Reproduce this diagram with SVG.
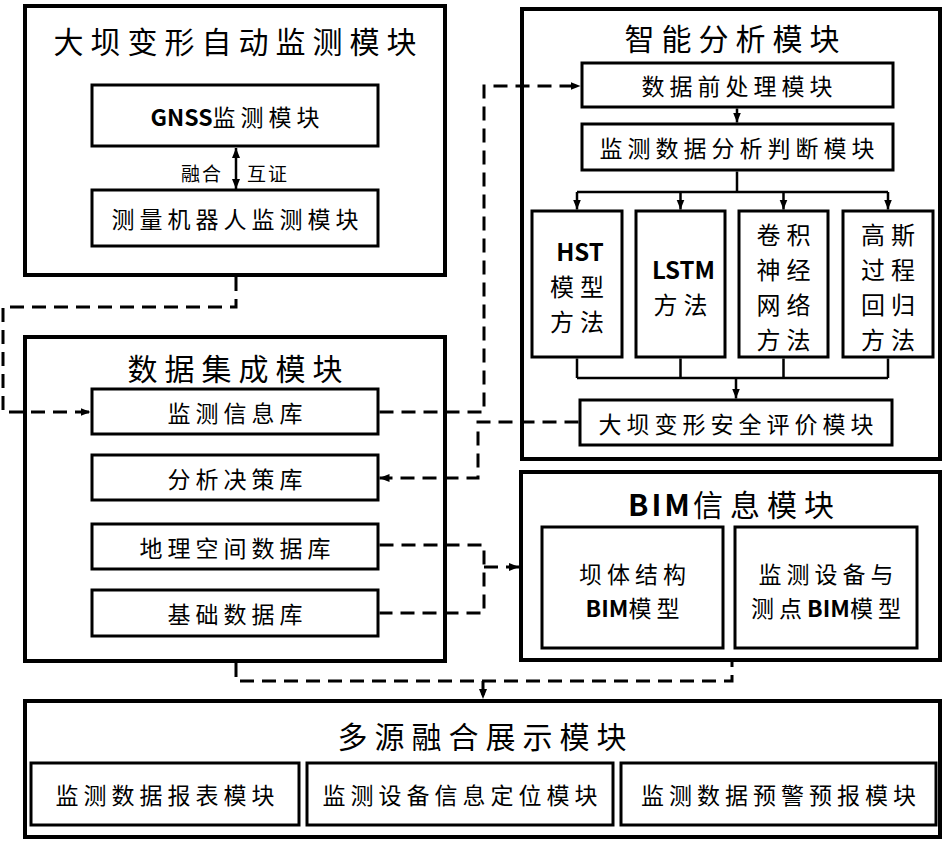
<svg xmlns="http://www.w3.org/2000/svg" width="945" height="841" viewBox="0 0 945 841">
<defs>
<style>
.outer{fill:#fff;stroke:#000;stroke-width:4}
.inner{fill:#fff;stroke:#000;stroke-width:3}
text{font-family:"Noto Sans CJK SC","Noto Sans",sans-serif;fill:#000;text-anchor:middle;dominant-baseline:central}
.title{font-size:30px;letter-spacing:7px}
.sub{font-size:23px;letter-spacing:5px}
.meth{font-size:24px;letter-spacing:6px}
.small{font-size:19px;letter-spacing:2px}
.lat{font-weight:bold;letter-spacing:0}
.solid{fill:none;stroke:#000;stroke-width:2.5}
.dash{fill:none;stroke:#000;stroke-width:3;stroke-dasharray:14 8}
</style>
<marker id="ah" markerUnits="userSpaceOnUse" markerWidth="10" markerHeight="10" refX="10" refY="5" orient="auto-start-reverse" viewBox="0 0 10 10"><path d="M0,1 L10,5 L0,9 z" fill="#000"/></marker>
</defs>
<rect width="945" height="841" fill="#fff"/>

<g id="monitor">
<rect class="outer" x="25" y="6" width="420" height="269"/>
<text class="title" x="238.5" y="40">大坝变形自动监测模块</text>
<g id="gnss"><rect class="inner" x="92" y="85" width="286" height="61"/>
<text class="sub" x="237.5" y="116"><tspan class="lat">GNSS</tspan>监测模块</text></g>
<g id="robot"><rect class="inner" x="92" y="190" width="286" height="56"/>
<text class="sub" x="237.5" y="218">测量机器人监测模块</text></g>
<text class="small" x="202" y="172">融合</text>
<text class="small" x="268" y="172">互证</text>
</g>

<g id="analysis">
<rect class="outer" x="522" y="9" width="418" height="450"/>
<text class="title" x="735.5" y="37">智能分析模块</text>
<g id="preproc"><rect class="inner" x="582" y="63" width="311" height="44"/>
<text class="sub" x="739.5" y="85">数据前处理模块</text></g>
<g id="judge"><rect class="inner" x="582" y="124" width="311" height="46"/>
<text class="sub" x="739.5" y="147">监测数据分析判断模块</text></g>
<g id="hst"><rect class="inner" x="532" y="211" width="90" height="146"/>
<text class="meth" x="580" y="250"><tspan class="lat">HST</tspan><tspan x="580" y="285">模型</tspan><tspan x="580" y="320">方法</tspan></text></g>
<g id="lstm"><rect class="inner" x="636" y="211" width="89" height="146"/>
<text class="meth" x="683.5" y="268"><tspan class="lat">LSTM</tspan><tspan x="683.5" y="303">方法</tspan></text></g>
<g id="cnn"><rect class="inner" x="739" y="211" width="89" height="146"/>
<text class="meth" x="786.5" y="233">卷积<tspan x="786.5" y="268">神经</tspan><tspan x="786.5" y="303">网络</tspan><tspan x="786.5" y="338">方法</tspan></text></g>
<g id="gpr"><rect class="inner" x="843" y="211" width="90" height="146"/>
<text class="meth" x="891" y="233">高斯<tspan x="891" y="268">过程</tspan><tspan x="891" y="303">回归</tspan><tspan x="891" y="338">方法</tspan></text></g>
<g id="safety"><rect class="inner" x="580" y="400" width="312" height="45"/>
<text class="sub" x="738.5" y="422.5">大坝变形安全评价模块</text></g>
</g>

<g id="integration">
<rect class="outer" x="25" y="337" width="420" height="324"/>
<text class="title" x="238.5" y="367">数据集成模块</text>
<g id="db-monitor"><rect class="inner" x="92" y="389" width="286" height="45"/>
<text class="sub" x="237.5" y="411.5">监测信息库</text></g>
<g id="db-decision"><rect class="inner" x="92" y="455" width="286" height="45"/>
<text class="sub" x="237.5" y="477.5">分析决策库</text></g>
<g id="db-geo"><rect class="inner" x="92" y="524" width="286" height="45"/>
<text class="sub" x="237.5" y="546.5">地理空间数据库</text></g>
<g id="db-base"><rect class="inner" x="92" y="590" width="286" height="46"/>
<text class="sub" x="237.5" y="613">基础数据库</text></g>
</g>

<g id="bim">
<rect class="outer" x="521" y="472" width="419" height="188"/>
<text class="title" x="734.5" y="503"><tspan class="lat" style="letter-spacing:3px">BIM</tspan>信息模块</text>
<g id="bim-dam"><rect class="inner" x="542" y="527" width="181" height="121"/>
<text class="sub" x="635" y="573">坝体结构</text>
<text class="sub" x="635" y="607"><tspan class="lat">BIM</tspan>模型</text></g>
<g id="bim-device"><rect class="inner" x="735" y="527" width="182" height="121"/>
<text class="sub" x="828.5" y="573">监测设备与</text>
<text class="sub" x="828.5" y="607">测点<tspan class="lat">BIM</tspan>模型</text></g>
</g>

<g id="display">
<rect class="outer" x="25" y="701" width="915" height="136"/>
<text class="title" x="485.5" y="735">多源融合展示模块</text>
<g id="report"><rect class="inner" x="31" y="763" width="268" height="62"/>
<text class="sub" x="167.5" y="794">监测数据报表模块</text></g>
<g id="locate"><rect class="inner" x="307" y="763" width="306" height="62"/>
<text class="sub" x="462.5" y="794">监测设备信息定位模块</text></g>
<g id="warn"><rect class="inner" x="621" y="763" width="315" height="62"/>
<text class="sub" x="781" y="794">监测数据预警预报模块</text></g>
</g>

<g id="connectors">
<path class="solid" d="M236,148 V189" marker-start="url(#ah)" marker-end="url(#ah)"/>
<path class="dash" d="M236,277 V307 H3 V412 H90.5" marker-end="url(#ah)"/>
<path class="dash" d="M379.5,412 H484 V86 H580.5" marker-end="url(#ah)"/>
<path class="dash" d="M578.5,422 H478 V478 H379.5" marker-end="url(#ah)"/>
<path class="dash" d="M379.5,545 H484 V613 H379.5"/>
<path class="dash" d="M484,567 H519" marker-end="url(#ah)"/>
<path class="dash" d="M236,663 V681 H732 V662"/>
<path class="dash" d="M483,681 V699" marker-end="url(#ah)"/>
<path class="solid" d="M737,108.5 V122.5" marker-end="url(#ah)"/>
<path class="solid" d="M737,171.5 V192 M577,192 H888"/>
<path class="solid" d="M577,192 V209.5" marker-end="url(#ah)"/>
<path class="solid" d="M680.5,192 V209.5" marker-end="url(#ah)"/>
<path class="solid" d="M783.5,192 V209.5" marker-end="url(#ah)"/>
<path class="solid" d="M888,192 V209.5" marker-end="url(#ah)"/>
<path class="solid" d="M577,358.5 V378 M680.5,358.5 V378 M783.5,358.5 V378 M888,358.5 V378 M577,378 H888"/>
<path class="solid" d="M736,378 V398.5" marker-end="url(#ah)"/>
</g>
</svg>
